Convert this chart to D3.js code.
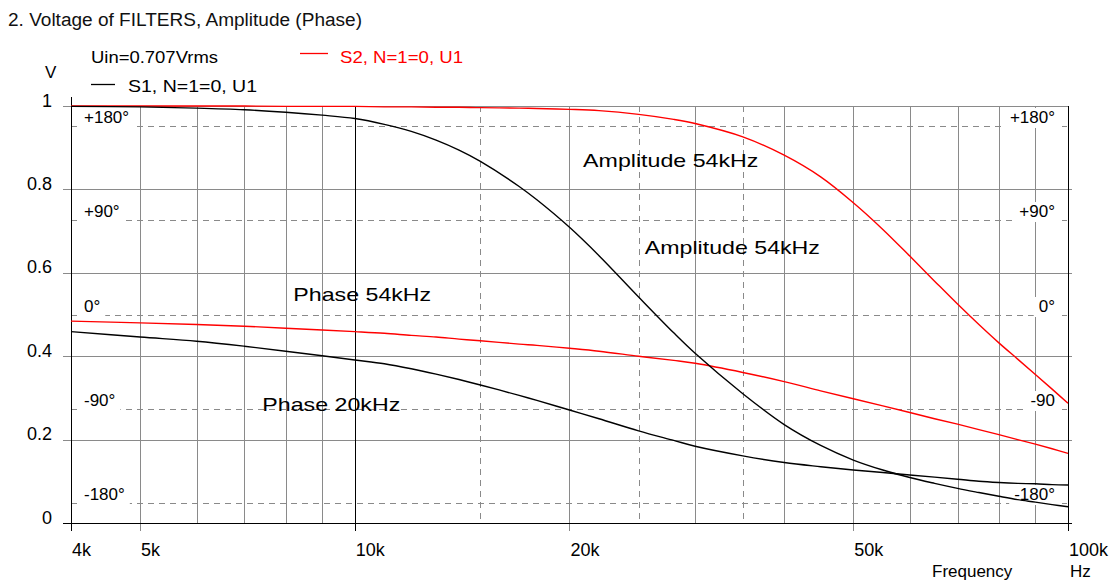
<!DOCTYPE html>
<html>
<head>
<meta charset="utf-8">
<script src="https://cdn.jsdelivr.net/npm/d3@7"></script>
<style>
	body { margin: 0; background: #fff; }
	text { font-family: "Liberation Sans", Arial, Helvetica, sans-serif; }
</style>
</head>
<body>
<svg id="chart"></svg>
<script>

// frequencies in kHz
var freqKHz = [4, 5, 6, 7, 8, 9, 10, 11, 12, 13, 14, 15, 17, 18, 20, 22, 25, 28, 30, 35, 40, 45, 50, 55, 60, 65, 70, 75, 80, 85, 90, 95, 100];

// S1 (black) and S2 (red), amplitude and phase
var s1Amp = [0.999, 0.998, 0.995, 0.991, 0.985, 0.978, 0.970, 0.956, 0.939, 0.918, 0.894, 0.867, 0.807, 0.775, 0.709, 0.641, 0.542, 0.456, 0.407, 0.310, 0.236, 0.186, 0.151, 0.127, 0.109, 0.095, 0.083, 0.073, 0.064, 0.056, 0.050, 0.044, 0.039];
var s2Amp = [1.0, 1.0, 1.0, 1.0, 0.999, 0.999, 0.999, 0.998, 0.998, 0.997, 0.997, 0.996, 0.995, 0.994, 0.992, 0.989, 0.980, 0.968, 0.958, 0.926, 0.882, 0.830, 0.768, 0.704, 0.640, 0.580, 0.525, 0.476, 0.432, 0.393, 0.356, 0.321, 0.287];
var s1Phase = [0.459, 0.446, 0.436, 0.424, 0.412, 0.401, 0.391, 0.382, 0.370, 0.357, 0.344, 0.331, 0.306, 0.294, 0.271, 0.250, 0.221, 0.198, 0.184, 0.161, 0.145, 0.135, 0.127, 0.121, 0.115, 0.110, 0.105, 0.100, 0.097, 0.095, 0.094, 0.092, 0.091];
var s2Phase = [0.484, 0.480, 0.476, 0.472, 0.467, 0.463, 0.459, 0.455, 0.450, 0.446, 0.441, 0.437, 0.429, 0.426, 0.419, 0.412, 0.400, 0.390, 0.383, 0.361, 0.339, 0.317, 0.298, 0.281, 0.265, 0.250, 0.237, 0.224, 0.212, 0.200, 0.189, 0.178, 0.167];

// axes
var xTicks = [4, 5, 10, 20, 50, 100];
var xTickLabels = ["4k", "5k", "10k", "20k", "50k", "100k"];
var xSolidGrid = [5, 6, 7, 8, 9, 20, 30, 40, 50, 60, 70, 80, 90];
var xDashedGrid = [15, 25, 35];
var yTicks = [0, 0.2, 0.4, 0.6, 0.8, 1];
var yTickLabels = ["0", "0.2", "0.4", "0.6", "0.8", "1"];
var phaseTicks = [180, 90, 0, -90, -180];
var phaseLeftLabels = ["+180°", "+90°", "0°", "-90°", "-180°"];
var phaseRightLabels = ["+180°", "+90°", "0°", "-90", "-180°"];

// annotations placed at (kHz, V)
var notes = [
	{ text: "Amplitude 54kHz", f: 20.9, v: 0.854 },
	{ text: "Amplitude 54kHz", f: 25.5, v: 0.645 },
	{ text: "Phase 54kHz", f: 8.2, v: 0.532 },
	{ text: "Phase 20kHz", f: 7.42, v: 0.269 }
];

var W = 1113, H = 581;
var grey = "#8a8a8a";

var svg = d3.select("#chart")
	.attr("width", W)
	.attr("height", H);

var x = d3.scaleLog().domain([4, 100]).range([71, 1068]);
var y = d3.scaleLinear().domain([0, 1]).range([523, 106]);
var yPhase = d3.scaleLinear().domain([-180, 180]).range([503.3, 126]);

var grid = svg.append("g").style("shape-rendering", "crispEdges");

// vertical grid
grid.selectAll("line.vs")
	.data(xSolidGrid)
	.enter().append("line")
	.attr("x1", function(d) { return Math.round(x(d)) + 0.5; })
	.attr("x2", function(d) { return Math.round(x(d)) + 0.5; })
	.attr("y1", y(1))
	.attr("y2", y(0))
	.style("stroke", grey);

grid.selectAll("line.vd")
	.data(xDashedGrid)
	.enter().append("line")
	.attr("x1", function(d) { return Math.round(x(d)) + 0.5; })
	.attr("x2", function(d) { return Math.round(x(d)) + 0.5; })
	.attr("y1", y(1))
	.attr("y2", y(0))
	.style("stroke", grey)
	.style("stroke-dasharray", "6,5");

// horizontal grid
grid.selectAll("line.hs")
	.data(yTicks.slice(1))
	.enter().append("line")
	.attr("x1", 63)
	.attr("x2", function(d) { return d == 1 ? 1068 : 1072; })
	.attr("y1", function(d) { return Math.round(y(d)) + 0.5; })
	.attr("y2", function(d) { return Math.round(y(d)) + 0.5; })
	.style("stroke", grey);

grid.selectAll("line.hd")
	.data(phaseTicks)
	.enter().append("line")
	.attr("x1", 71)
	.attr("x2", 1068)
	.attr("y1", function(d) { return Math.round(yPhase(d)) + 0.5; })
	.attr("y2", function(d) { return Math.round(yPhase(d)) + 0.5; })
	.style("stroke", grey)
	.style("stroke-dasharray", "6,5");

// tick marks below the x axis
grid.selectAll("line.xt")
	.data(xTicks)
	.enter().append("line")
	.attr("x1", function(d) { return Math.round(x(d)) + 0.5; })
	.attr("x2", function(d) { return Math.round(x(d)) + 0.5; })
	.attr("y1", y(1))
	.attr("y2", y(0) + 8)
	.style("stroke", function(d) { return (d == 10 || d == 4 || d == 100) ? "#000" : grey; });

// axis frame
grid.append("line").attr("x1", 71.5).attr("x2", 71.5).attr("y1", 97).attr("y2", 531).style("stroke", "#000");
grid.append("line").attr("x1", 1068.5).attr("x2", 1068.5).attr("y1", 106).attr("y2", 531).style("stroke", "#000");
grid.append("line").attr("x1", 63).attr("x2", 1072).attr("y1", 523.5).attr("y2", 523.5).style("stroke", "#000");

// phase labels with white backing
function phaseLabels(labels, side) {
	var g = svg.append("g");
	labels.forEach(function(t, i) {
		var by = Math.round(yPhase(phaseTicks[i])) - 3;
		var txt = g.append("text")
			.attr("y", by)
			.style("font-size", "17px")
			.style("fill", "#000")
			.text(t);
		if (side == "left") {
			txt.attr("x", 84);
		} else {
			txt.attr("x", 1055).style("text-anchor", "end");
		}
		var b = txt.node().getBBox();
		var x0 = side == "left" ? 78 : b.x - 5;
		var x1 = side == "left" ? b.x + b.width + 5 : 1062;
		g.insert("rect", "text")
			.attr("x", x0)
			.attr("y", by - 15)
			.attr("width", x1 - x0)
			.attr("height", 20)
			.style("fill", "#fff");
	});
}
phaseLabels(phaseLeftLabels, "left");
phaseLabels(phaseRightLabels, "right");

// tick labels
svg.selectAll("text.ylab")
	.data(yTicks)
	.enter().append("text")
	.attr("x", 52)
	.attr("y", function(d) { return y(d) + 0.5; })
	.style("text-anchor", "end")
	.style("font-size", "18px")
	.text(function(d, i) { return yTickLabels[i]; });

svg.selectAll("text.xlab")
	.data(xTicks)
	.enter().append("text")
	.attr("x", function(d) { return x(d) + 1; })
	.attr("y", 556)
	.style("font-size", "18px")
	.text(function(d, i) { return xTickLabels[i]; });

svg.append("text").attr("x", 932).attr("y", 577).style("font-size", "17px").text("Frequency");
svg.append("text").attr("x", 1070).attr("y", 577).style("font-size", "17px").text("Hz");
svg.append("text").attr("x", 45).attr("y", 78).style("font-size", "17px").text("V");

// title and legend
svg.append("text")
	.attr("x", 8)
	.attr("y", 26)
	.attr("textLength", 354)
	.attr("lengthAdjust", "spacingAndGlyphs")
	.style("font-size", "18px")
	.style("fill", "#111")
	.text("2. Voltage of FILTERS, Amplitude (Phase)");

svg.append("text").attr("x", 91).attr("y", 63)
	.attr("textLength", 127).attr("lengthAdjust", "spacingAndGlyphs")
	.style("font-size", "16px").text("Uin=0.707Vrms");

svg.append("line").attr("x1", 300).attr("x2", 328).attr("y1", 53.5).attr("y2", 53.5)
	.style("stroke", "#f00").style("stroke-width", 1.3);
svg.append("text").attr("x", 340).attr("y", 63)
	.attr("textLength", 123).attr("lengthAdjust", "spacingAndGlyphs")
	.style("font-size", "17px").style("fill", "#f00").text("S2, N=1=0, U1");

svg.append("line").attr("x1", 91).attr("x2", 115).attr("y1", 84.5).attr("y2", 84.5)
	.style("stroke", "#000").style("stroke-width", 1.3);
svg.append("text").attr("x", 128).attr("y", 92)
	.attr("textLength", 129).attr("lengthAdjust", "spacingAndGlyphs")
	.style("font-size", "17px").text("S1, N=1=0, U1");

// curves
var line = d3.line()
	.x(function(d) { return x(d.f); })
	.y(function(d) { return y(d.v); })
	.curve(d3.curveCatmullRom.alpha(0.5));

function series(values) {
	return freqKHz.map(function(f, i) { return { f: f, v: values[i] }; });
}

var curves = [
	{ values: s2Phase, color: "#f00" },
	{ values: s1Phase, color: "#000" },
	{ values: s2Amp, color: "#f00" },
	{ values: s1Amp, color: "#000" }
];

svg.selectAll("path.curve")
	.data(curves)
	.enter().append("path")
	.attr("class", "curve")
	.attr("d", function(d) { return line(series(d.values)); })
	.style("fill", "none")
	.style("stroke", function(d) { return d.color; })
	.style("stroke-width", 1.4);

// annotations
svg.selectAll("text.note")
	.data(notes)
	.enter().append("text")
	.attr("class", "note")
	.attr("x", function(d) { return x(d.f); })
	.attr("y", function(d) { return y(d.v); })
	.style("font-size", "19px")
	.style("fill", "#000")
	.text(function(d) { return d.text; })
	.each(function() {
		var len = this.getComputedTextLength();
		d3.select(this).attr("textLength", len * 1.22).attr("lengthAdjust", "spacingAndGlyphs");
	});

</script>
</body>
</html>
